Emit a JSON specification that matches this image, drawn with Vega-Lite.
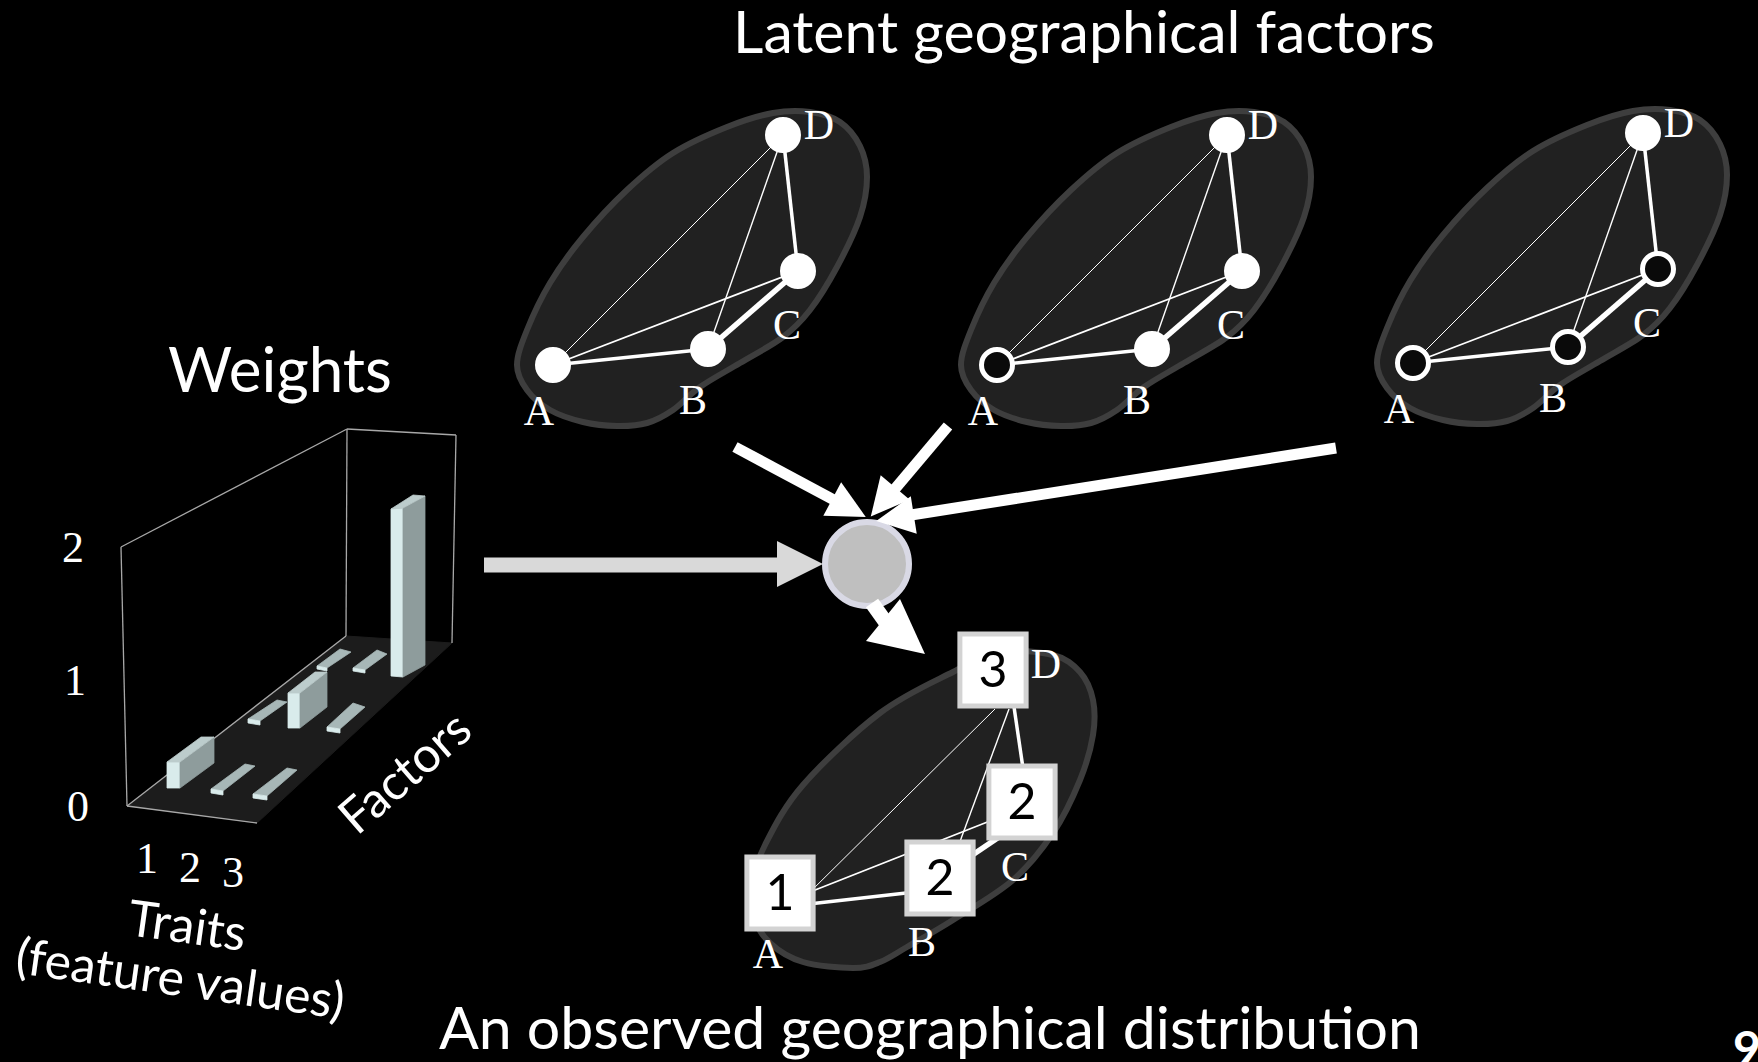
{
  "$schema": "https://vega.github.io/schema/vega-lite/v6.json",
  "width": 1758,
  "height": 1062,
  "padding": 0,
  "autosize": {"type": "none"},
  "background": "#000000",
  "config": {"view": {"stroke": null}},
  "resolve": {"scale": {"size": "independent", "color": "independent", "fill": "independent", "stroke": "independent", "strokeWidth": "independent"}},
  "datasets": {
    "blobs": [
      {"panel": "p1", "k": 1, "x": 773, "y": 113}, {"panel": "p1", "k": 2, "x": 810, "y": 112}, {"panel": "p1", "k": 3, "x": 840, "y": 122}, {"panel": "p1", "k": 4, "x": 860, "y": 146}, {"panel": "p1", "k": 5, "x": 867, "y": 177}, {"panel": "p1", "k": 6, "x": 860, "y": 217}, {"panel": "p1", "k": 7, "x": 837, "y": 267}, {"panel": "p1", "k": 8, "x": 810, "y": 310}, {"panel": "p1", "k": 9, "x": 783, "y": 337}, {"panel": "p1", "k": 10, "x": 740, "y": 363}, {"panel": "p1", "k": 11, "x": 700, "y": 387}, {"panel": "p1", "k": 12, "x": 673, "y": 410}, {"panel": "p1", "k": 13, "x": 647, "y": 423}, {"panel": "p1", "k": 14, "x": 617, "y": 426}, {"panel": "p1", "k": 15, "x": 583, "y": 422}, {"panel": "p1", "k": 16, "x": 550, "y": 410}, {"panel": "p1", "k": 17, "x": 527, "y": 390}, {"panel": "p1", "k": 18, "x": 517, "y": 365}, {"panel": "p1", "k": 19, "x": 527, "y": 330}, {"panel": "p1", "k": 20, "x": 550, "y": 283}, {"panel": "p1", "k": 21, "x": 583, "y": 237}, {"panel": "p1", "k": 22, "x": 627, "y": 190}, {"panel": "p1", "k": 23, "x": 673, "y": 153}, {"panel": "p1", "k": 24, "x": 727, "y": 127},
      {"panel": "p2", "k": 1, "x": 1217, "y": 113}, {"panel": "p2", "k": 2, "x": 1254, "y": 112}, {"panel": "p2", "k": 3, "x": 1284, "y": 122}, {"panel": "p2", "k": 4, "x": 1304, "y": 146}, {"panel": "p2", "k": 5, "x": 1311, "y": 177}, {"panel": "p2", "k": 6, "x": 1304, "y": 217}, {"panel": "p2", "k": 7, "x": 1281, "y": 267}, {"panel": "p2", "k": 8, "x": 1254, "y": 310}, {"panel": "p2", "k": 9, "x": 1227, "y": 337}, {"panel": "p2", "k": 10, "x": 1184, "y": 363}, {"panel": "p2", "k": 11, "x": 1144, "y": 387}, {"panel": "p2", "k": 12, "x": 1117, "y": 410}, {"panel": "p2", "k": 13, "x": 1091, "y": 423}, {"panel": "p2", "k": 14, "x": 1061, "y": 426}, {"panel": "p2", "k": 15, "x": 1027, "y": 422}, {"panel": "p2", "k": 16, "x": 994, "y": 410}, {"panel": "p2", "k": 17, "x": 971, "y": 390}, {"panel": "p2", "k": 18, "x": 961, "y": 365}, {"panel": "p2", "k": 19, "x": 971, "y": 330}, {"panel": "p2", "k": 20, "x": 994, "y": 283}, {"panel": "p2", "k": 21, "x": 1027, "y": 237}, {"panel": "p2", "k": 22, "x": 1071, "y": 190}, {"panel": "p2", "k": 23, "x": 1117, "y": 153}, {"panel": "p2", "k": 24, "x": 1171, "y": 127},
      {"panel": "p3", "k": 1, "x": 1633, "y": 111}, {"panel": "p3", "k": 2, "x": 1670, "y": 110}, {"panel": "p3", "k": 3, "x": 1700, "y": 120}, {"panel": "p3", "k": 4, "x": 1720, "y": 144}, {"panel": "p3", "k": 5, "x": 1727, "y": 175}, {"panel": "p3", "k": 6, "x": 1720, "y": 215}, {"panel": "p3", "k": 7, "x": 1697, "y": 265}, {"panel": "p3", "k": 8, "x": 1670, "y": 308}, {"panel": "p3", "k": 9, "x": 1643, "y": 335}, {"panel": "p3", "k": 10, "x": 1600, "y": 361}, {"panel": "p3", "k": 11, "x": 1560, "y": 385}, {"panel": "p3", "k": 12, "x": 1533, "y": 408}, {"panel": "p3", "k": 13, "x": 1507, "y": 421}, {"panel": "p3", "k": 14, "x": 1477, "y": 424}, {"panel": "p3", "k": 15, "x": 1443, "y": 420}, {"panel": "p3", "k": 16, "x": 1410, "y": 408}, {"panel": "p3", "k": 17, "x": 1387, "y": 388}, {"panel": "p3", "k": 18, "x": 1377, "y": 363}, {"panel": "p3", "k": 19, "x": 1387, "y": 328}, {"panel": "p3", "k": 20, "x": 1410, "y": 281}, {"panel": "p3", "k": 21, "x": 1443, "y": 235}, {"panel": "p3", "k": 22, "x": 1487, "y": 188}, {"panel": "p3", "k": 23, "x": 1533, "y": 151}, {"panel": "p3", "k": 24, "x": 1587, "y": 125},
      {"panel": "obs", "k": 1, "x": 1000, "y": 652}, {"panel": "obs", "k": 2, "x": 1053, "y": 655}, {"panel": "obs", "k": 3, "x": 1080, "y": 672}, {"panel": "obs", "k": 4, "x": 1093, "y": 700}, {"panel": "obs", "k": 5, "x": 1093, "y": 735}, {"panel": "obs", "k": 6, "x": 1080, "y": 780}, {"panel": "obs", "k": 7, "x": 1053, "y": 833}, {"panel": "obs", "k": 8, "x": 1013, "y": 880}, {"panel": "obs", "k": 9, "x": 953, "y": 920}, {"panel": "obs", "k": 10, "x": 907, "y": 947}, {"panel": "obs", "k": 11, "x": 880, "y": 962}, {"panel": "obs", "k": 12, "x": 853, "y": 968}, {"panel": "obs", "k": 13, "x": 803, "y": 962}, {"panel": "obs", "k": 14, "x": 770, "y": 943}, {"panel": "obs", "k": 15, "x": 753, "y": 915}, {"panel": "obs", "k": 16, "x": 752, "y": 885}, {"panel": "obs", "k": 17, "x": 765, "y": 845}, {"panel": "obs", "k": 18, "x": 803, "y": 785}, {"panel": "obs", "k": 19, "x": 880, "y": 713}, {"panel": "obs", "k": 20, "x": 953, "y": 672}
    ],
    "floor": [
      {"k": 1, "x": 127, "y": 806}, {"k": 2, "x": 257, "y": 823}, {"k": 3, "x": 452, "y": 643}, {"k": 4, "x": 346, "y": 636}
    ],
    "frame": [
      {"x": 121, "y": 547, "x2": 127, "y2": 806},
      {"x": 121, "y": 547, "x2": 347, "y2": 429},
      {"x": 347, "y": 429, "x2": 456, "y2": 435},
      {"x": 347, "y": 429, "x2": 346, "y2": 636},
      {"x": 456, "y": 435, "x2": 452, "y2": 643},
      {"x": 127, "y": 806, "x2": 346, "y2": 636},
      {"x": 127, "y": 806, "x2": 257, "y2": 823}
    ],
    "bars": [
      {"id": "b1f", "face": "front", "k": 1, "x": 167, "y": 762}, {"id": "b1f", "face": "front", "k": 2, "x": 180, "y": 762}, {"id": "b1f", "face": "front", "k": 3, "x": 180, "y": 788}, {"id": "b1f", "face": "front", "k": 4, "x": 167, "y": 788},
      {"id": "b1s", "face": "side", "k": 1, "x": 180, "y": 762}, {"id": "b1s", "face": "side", "k": 2, "x": 214, "y": 737}, {"id": "b1s", "face": "side", "k": 3, "x": 214, "y": 763}, {"id": "b1s", "face": "side", "k": 4, "x": 180, "y": 788},
      {"id": "b1t", "face": "top", "k": 1, "x": 167, "y": 762}, {"id": "b1t", "face": "top", "k": 2, "x": 180, "y": 762}, {"id": "b1t", "face": "top", "k": 3, "x": 214, "y": 737}, {"id": "b1t", "face": "top", "k": 4, "x": 201, "y": 737},
      {"id": "t12", "face": "tile", "k": 1, "x": 211, "y": 789}, {"id": "t12", "face": "tile", "k": 2, "x": 223, "y": 791}, {"id": "t12", "face": "tile", "k": 3, "x": 255, "y": 766}, {"id": "t12", "face": "tile", "k": 4, "x": 245, "y": 764},
      {"id": "t12f", "face": "front", "k": 1, "x": 211, "y": 789}, {"id": "t12f", "face": "front", "k": 2, "x": 223, "y": 791}, {"id": "t12f", "face": "front", "k": 3, "x": 223, "y": 795}, {"id": "t12f", "face": "front", "k": 4, "x": 211, "y": 793},
      {"id": "t13", "face": "tile", "k": 1, "x": 253, "y": 794}, {"id": "t13", "face": "tile", "k": 2, "x": 267, "y": 796}, {"id": "t13", "face": "tile", "k": 3, "x": 297, "y": 770}, {"id": "t13", "face": "tile", "k": 4, "x": 287, "y": 768},
      {"id": "t13f", "face": "front", "k": 1, "x": 253, "y": 794}, {"id": "t13f", "face": "front", "k": 2, "x": 267, "y": 796}, {"id": "t13f", "face": "front", "k": 3, "x": 267, "y": 800}, {"id": "t13f", "face": "front", "k": 4, "x": 253, "y": 798},
      {"id": "t21", "face": "tile", "k": 1, "x": 248, "y": 719}, {"id": "t21", "face": "tile", "k": 2, "x": 260, "y": 721}, {"id": "t21", "face": "tile", "k": 3, "x": 287, "y": 702}, {"id": "t21", "face": "tile", "k": 4, "x": 277, "y": 700},
      {"id": "t21f", "face": "front", "k": 1, "x": 248, "y": 719}, {"id": "t21f", "face": "front", "k": 2, "x": 260, "y": 721}, {"id": "t21f", "face": "front", "k": 3, "x": 260, "y": 725}, {"id": "t21f", "face": "front", "k": 4, "x": 248, "y": 723},
      {"id": "b2f", "face": "front", "k": 1, "x": 288, "y": 693}, {"id": "b2f", "face": "front", "k": 2, "x": 300, "y": 693}, {"id": "b2f", "face": "front", "k": 3, "x": 300, "y": 728}, {"id": "b2f", "face": "front", "k": 4, "x": 288, "y": 728},
      {"id": "b2s", "face": "side", "k": 1, "x": 300, "y": 693}, {"id": "b2s", "face": "side", "k": 2, "x": 327, "y": 672}, {"id": "b2s", "face": "side", "k": 3, "x": 327, "y": 707}, {"id": "b2s", "face": "side", "k": 4, "x": 300, "y": 728},
      {"id": "b2t", "face": "top", "k": 1, "x": 288, "y": 693}, {"id": "b2t", "face": "top", "k": 2, "x": 300, "y": 693}, {"id": "b2t", "face": "top", "k": 3, "x": 327, "y": 672}, {"id": "b2t", "face": "top", "k": 4, "x": 315, "y": 672},
      {"id": "t23", "face": "tile", "k": 1, "x": 327, "y": 727}, {"id": "t23", "face": "tile", "k": 2, "x": 340, "y": 729}, {"id": "t23", "face": "tile", "k": 3, "x": 365, "y": 707}, {"id": "t23", "face": "tile", "k": 4, "x": 353, "y": 703},
      {"id": "t23f", "face": "front", "k": 1, "x": 327, "y": 727}, {"id": "t23f", "face": "front", "k": 2, "x": 340, "y": 729}, {"id": "t23f", "face": "front", "k": 3, "x": 340, "y": 733}, {"id": "t23f", "face": "front", "k": 4, "x": 327, "y": 731},
      {"id": "t31", "face": "tile", "k": 1, "x": 317, "y": 666}, {"id": "t31", "face": "tile", "k": 2, "x": 327, "y": 668}, {"id": "t31", "face": "tile", "k": 3, "x": 351, "y": 652}, {"id": "t31", "face": "tile", "k": 4, "x": 340, "y": 649},
      {"id": "t31f", "face": "front", "k": 1, "x": 317, "y": 666}, {"id": "t31f", "face": "front", "k": 2, "x": 327, "y": 668}, {"id": "t31f", "face": "front", "k": 3, "x": 327, "y": 671}, {"id": "t31f", "face": "front", "k": 4, "x": 317, "y": 669},
      {"id": "t32", "face": "tile", "k": 1, "x": 353, "y": 668}, {"id": "t32", "face": "tile", "k": 2, "x": 365, "y": 670}, {"id": "t32", "face": "tile", "k": 3, "x": 387, "y": 654}, {"id": "t32", "face": "tile", "k": 4, "x": 377, "y": 650},
      {"id": "t32f", "face": "front", "k": 1, "x": 353, "y": 668}, {"id": "t32f", "face": "front", "k": 2, "x": 365, "y": 670}, {"id": "t32f", "face": "front", "k": 3, "x": 365, "y": 673}, {"id": "t32f", "face": "front", "k": 4, "x": 353, "y": 671},
      {"id": "b3f", "face": "front", "k": 1, "x": 391, "y": 509}, {"id": "b3f", "face": "front", "k": 2, "x": 403, "y": 508}, {"id": "b3f", "face": "front", "k": 3, "x": 403, "y": 677}, {"id": "b3f", "face": "front", "k": 4, "x": 391, "y": 676},
      {"id": "b3s", "face": "side", "k": 1, "x": 403, "y": 508}, {"id": "b3s", "face": "side", "k": 2, "x": 425, "y": 496}, {"id": "b3s", "face": "side", "k": 3, "x": 425, "y": 665}, {"id": "b3s", "face": "side", "k": 4, "x": 403, "y": 677},
      {"id": "b3t", "face": "top", "k": 1, "x": 391, "y": 509}, {"id": "b3t", "face": "top", "k": 2, "x": 403, "y": 508}, {"id": "b3t", "face": "top", "k": 3, "x": 425, "y": 496}, {"id": "b3t", "face": "top", "k": 4, "x": 413, "y": 495}
    ],
    "edges": [
      {"x": 553, "y": 365, "x2": 783, "y2": 135, "w": 1}, {"x": 553, "y": 365, "x2": 798, "y2": 271, "w": 1.8}, {"x": 708, "y": 349, "x2": 783, "y2": 135, "w": 1.4}, {"x": 553, "y": 365, "x2": 708, "y2": 349, "w": 3.5}, {"x": 798, "y": 271, "x2": 783, "y2": 135, "w": 3.5}, {"x": 708, "y": 349, "x2": 798, "y2": 271, "w": 5.5},
      {"x": 997, "y": 365, "x2": 1227, "y2": 135, "w": 1}, {"x": 997, "y": 365, "x2": 1242, "y2": 271, "w": 1.8}, {"x": 1152, "y": 349, "x2": 1227, "y2": 135, "w": 1.4}, {"x": 997, "y": 365, "x2": 1152, "y2": 349, "w": 3.5}, {"x": 1242, "y": 271, "x2": 1227, "y2": 135, "w": 3.5}, {"x": 1152, "y": 349, "x2": 1242, "y2": 271, "w": 5.5},
      {"x": 1413, "y": 363, "x2": 1643, "y2": 133, "w": 1}, {"x": 1413, "y": 363, "x2": 1658, "y2": 269, "w": 1.8}, {"x": 1568, "y": 347, "x2": 1643, "y2": 133, "w": 1.4}, {"x": 1413, "y": 363, "x2": 1568, "y2": 347, "w": 3.5}, {"x": 1658, "y": 269, "x2": 1643, "y2": 133, "w": 3.5}, {"x": 1568, "y": 347, "x2": 1658, "y2": 269, "w": 5.5},
      {"x": 805, "y": 897, "x2": 995, "y2": 709, "w": 1}, {"x": 805, "y": 894, "x2": 995, "y2": 819, "w": 1.8}, {"x": 800, "y": 905, "x2": 915, "y2": 892, "w": 3.5}, {"x": 955, "y": 855, "x2": 1009, "y2": 709, "w": 1.4}, {"x": 965, "y": 860, "x2": 1005, "y2": 833, "w": 5.5}, {"x": 1024, "y": 775, "x2": 1013, "y2": 700, "w": 3.5}
    ],
    "nodes": [
      {"x": 553, "y": 365, "state": "on"}, {"x": 708, "y": 349, "state": "on"}, {"x": 798, "y": 271, "state": "on"}, {"x": 783, "y": 135, "state": "on"},
      {"x": 997, "y": 365, "state": "off"}, {"x": 1152, "y": 349, "state": "on"}, {"x": 1242, "y": 271, "state": "on"}, {"x": 1227, "y": 135, "state": "on"},
      {"x": 1413, "y": 363, "state": "off"}, {"x": 1568, "y": 347, "state": "off"}, {"x": 1658, "y": 269, "state": "off"}, {"x": 1643, "y": 133, "state": "on"}
    ],
    "obs": [
      {"x": 780, "y": 893, "count": "1"}, {"x": 940, "y": 878, "count": "2"}, {"x": 1022, "y": 802, "count": "2"}, {"x": 993, "y": 670, "count": "3"}
    ],
    "nodeLabels": [
      {"x": 539, "y": 412, "text": "A"}, {"x": 693, "y": 401, "text": "B"}, {"x": 787, "y": 326, "text": "C"}, {"x": 819, "y": 126, "text": "D"},
      {"x": 983, "y": 412, "text": "A"}, {"x": 1137, "y": 401, "text": "B"}, {"x": 1231, "y": 326, "text": "C"}, {"x": 1263, "y": 126, "text": "D"},
      {"x": 1399, "y": 410, "text": "A"}, {"x": 1553, "y": 399, "text": "B"}, {"x": 1647, "y": 324, "text": "C"}, {"x": 1679, "y": 124, "text": "D"},
      {"x": 768, "y": 955, "text": "A"}, {"x": 922, "y": 943, "text": "B"}, {"x": 1015, "y": 868, "text": "C"}, {"x": 1046, "y": 665, "text": "D"}
    ],
    "axisLabels": [
      {"x": 73, "y": 549, "text": "2"}, {"x": 75, "y": 682, "text": "1"}, {"x": 78, "y": 808, "text": "0"},
      {"x": 147, "y": 860, "text": "1"}, {"x": 190, "y": 869, "text": "2"}, {"x": 233, "y": 874, "text": "3"}
    ],
    "hub": [{"x": 867, "y": 564}],
    "shafts": [
      {"x": 484, "y": 565, "x2": 782, "y2": 565, "kind": "gray"},
      {"x": 735, "y": 447, "x2": 834, "y2": 500, "kind": "white"},
      {"x": 948, "y": 426, "x2": 894, "y2": 490, "kind": "white"},
      {"x": 1336, "y": 448, "x2": 911, "y2": 515, "kind": "white"},
      {"x": 872, "y": 603, "x2": 887, "y2": 624, "kind": "big"}
    ],
    "heads": [
      {"x": 800, "y": 564, "angle": 0, "kind": "gray"},
      {"x": 849, "y": 508, "angle": 28, "kind": "white"},
      {"x": 883, "y": 502, "angle": 130, "kind": "white"},
      {"x": 895, "y": 518, "angle": 171, "kind": "white"},
      {"x": 904, "y": 637, "angle": 39, "kind": "big"}
    ],
    "titles": [
      {"x": 1084, "y": 53, "text": "Latent geographical factors"},
      {"x": 930, "y": 1049, "text": "An observed geographical distribution"}
    ],
    "weights": [{"x": 280, "y": 392, "text": "Weights"}],
    "factors": [{"x": 406, "y": 774, "text": "Factors", "angle": 319}],
    "traits": [
      {"x": 187, "y": 928, "text": "Traits", "angle": 8},
      {"x": 180, "y": 981, "text": "(feature values)", "angle": 8}
    ],
    "page": [{"x": 1733, "y": 1052, "text": "9"}]
  },
  "encoding": {
    "x": {"field": "x", "type": "quantitative", "scale": {"domain": [0, 1758], "nice": false, "zero": false}, "axis": null},
    "y": {"field": "y", "type": "quantitative", "scale": {"domain": [0, 1062], "nice": false, "zero": false, "reverse": true}, "axis": null}
  },
  "layer": [
    {
      "data": {"name": "blobs"},
      "mark": {"type": "line", "interpolate": "cardinal-closed", "fill": "#212121", "stroke": "#3e3e3e", "strokeWidth": 6},
      "encoding": {"detail": {"field": "panel", "type": "nominal"}, "order": {"field": "k", "type": "quantitative"}}
    },
    {
      "data": {"name": "floor"},
      "mark": {"type": "line", "interpolate": "linear-closed", "fill": "#1c1c1c", "stroke": "#1c1c1c", "strokeWidth": 1},
      "encoding": {"order": {"field": "k", "type": "quantitative"}}
    },
    {
      "data": {"name": "frame"},
      "mark": {"type": "rule", "stroke": "#a8a8a8", "strokeWidth": 1.3},
      "encoding": {"x2": {"field": "x2"}, "y2": {"field": "y2"}}
    },
    {
      "data": {"name": "bars"},
      "mark": {"type": "line", "interpolate": "linear-closed", "strokeWidth": 0.8},
      "encoding": {
        "detail": {"field": "id", "type": "nominal"},
        "order": {"field": "k", "type": "quantitative"},
        "fill": {"field": "face", "type": "nominal", "scale": {"domain": ["front", "side", "top", "tile"], "range": ["#d9ebeb", "#8e9c9c", "#bccccc", "#a7b7b7"]}, "legend": null},
        "stroke": {"field": "face", "type": "nominal", "scale": {"domain": ["front", "side", "top", "tile"], "range": ["#d9ebeb", "#8e9c9c", "#bccccc", "#a7b7b7"]}, "legend": null}
      }
    },
    {
      "data": {"name": "edges"},
      "mark": {"type": "rule", "stroke": "#ffffff"},
      "encoding": {
        "x2": {"field": "x2"}, "y2": {"field": "y2"},
        "strokeWidth": {"field": "w", "type": "quantitative", "scale": {"domain": [0, 6], "range": [0, 6]}, "legend": null}
      }
    },
    {
      "data": {"name": "nodes"},
      "mark": {"type": "point", "shape": "circle", "size": 961, "stroke": "#ffffff", "strokeWidth": 5, "opacity": 1},
      "encoding": {
        "fill": {"field": "state", "type": "nominal", "scale": {"domain": ["on", "off"], "range": ["#ffffff", "#0a0a0a"]}, "legend": null}
      }
    },
    {
      "data": {"name": "obs"},
      "mark": {"type": "point", "shape": "M-0.92,-1L0.92,-1L0.92,1L-0.92,1Z", "size": 5184, "fill": "#ffffff", "stroke": "#d3d3d3", "strokeWidth": 5, "opacity": 1}
    },
    {
      "data": {"name": "obs"},
      "mark": {"type": "text", "font": "Lato", "fontSize": 50, "color": "#000000", "align": "center", "baseline": "middle", "dy": 2},
      "encoding": {"text": {"field": "count", "type": "nominal"}}
    },
    {
      "data": {"name": "nodeLabels"},
      "mark": {"type": "text", "font": "Liberation Serif", "fontSize": 42, "color": "#ffffff", "align": "center", "baseline": "middle"},
      "encoding": {"text": {"field": "text", "type": "nominal"}}
    },
    {
      "data": {"name": "axisLabels"},
      "mark": {"type": "text", "font": "Liberation Serif", "fontSize": 44, "color": "#ffffff", "align": "center", "baseline": "middle"},
      "encoding": {"text": {"field": "text", "type": "nominal"}}
    },
    {
      "data": {"name": "hub"},
      "mark": {"type": "point", "shape": "circle", "size": 7056, "fill": "#bfbfbf", "stroke": "#d9d9e5", "strokeWidth": 6, "opacity": 1}
    },
    {
      "data": {"name": "shafts"},
      "transform": [{"filter": "datum.kind == 'gray'"}],
      "mark": {"type": "rule", "stroke": "#d9d9d9", "strokeWidth": 15},
      "encoding": {"x2": {"field": "x2"}, "y2": {"field": "y2"}}
    },
    {
      "data": {"name": "shafts"},
      "transform": [{"filter": "datum.kind == 'white'"}],
      "mark": {"type": "rule", "stroke": "#ffffff", "strokeWidth": 11},
      "encoding": {"x2": {"field": "x2"}, "y2": {"field": "y2"}}
    },
    {
      "data": {"name": "shafts"},
      "transform": [{"filter": "datum.kind == 'big'"}],
      "mark": {"type": "rule", "stroke": "#ffffff", "strokeWidth": 15},
      "encoding": {"x2": {"field": "x2"}, "y2": {"field": "y2"}}
    },
    {
      "data": {"name": "heads"},
      "transform": [{"filter": "datum.kind == 'gray'"}],
      "mark": {"type": "point", "shape": "M1,0L-1,-1L-1,1Z", "filled": true, "color": "#d9d9d9", "opacity": 1, "strokeWidth": 0, "size": 2116},
      "encoding": {"angle": {"field": "angle", "type": "quantitative", "scale": null}}
    },
    {
      "data": {"name": "heads"},
      "transform": [{"filter": "datum.kind == 'white'"}],
      "mark": {"type": "point", "shape": "M1,0L-1,-1L-1,1Z", "filled": true, "color": "#ffffff", "opacity": 1, "strokeWidth": 0, "size": 1444},
      "encoding": {"angle": {"field": "angle", "type": "quantitative", "scale": null}}
    },
    {
      "data": {"name": "heads"},
      "transform": [{"filter": "datum.kind == 'big'"}],
      "mark": {"type": "point", "shape": "M1,0L-1,-1L-1,1Z", "filled": true, "color": "#ffffff", "opacity": 1, "strokeWidth": 0, "size": 2916},
      "encoding": {"angle": {"field": "angle", "type": "quantitative", "scale": null}}
    },
    {
      "data": {"name": "titles"},
      "mark": {"type": "text", "font": "Lato", "fontSize": 59, "color": "#ffffff", "align": "center", "baseline": "alphabetic"},
      "encoding": {"text": {"field": "text", "type": "nominal"}}
    },
    {
      "data": {"name": "weights"},
      "mark": {"type": "text", "font": "Lato", "fontSize": 62, "color": "#ffffff", "align": "center", "baseline": "alphabetic"},
      "encoding": {"text": {"field": "text", "type": "nominal"}}
    },
    {
      "data": {"name": "factors"},
      "mark": {"type": "text", "font": "Lato", "fontSize": 49, "color": "#ffffff", "align": "center", "baseline": "middle"},
      "encoding": {"text": {"field": "text", "type": "nominal"}, "angle": {"field": "angle", "type": "quantitative", "scale": null}}
    },
    {
      "data": {"name": "traits"},
      "mark": {"type": "text", "font": "Lato", "fontSize": 50, "color": "#ffffff", "align": "center", "baseline": "middle"},
      "encoding": {"text": {"field": "text", "type": "nominal"}, "angle": {"field": "angle", "type": "quantitative", "scale": null}}
    },
    {
      "data": {"name": "page"},
      "mark": {"type": "text", "font": "Lato", "fontWeight": "bold", "fontSize": 48, "color": "#ffffff", "align": "left", "baseline": "middle"},
      "encoding": {"text": {"field": "text", "type": "nominal"}}
    }
  ]
}
